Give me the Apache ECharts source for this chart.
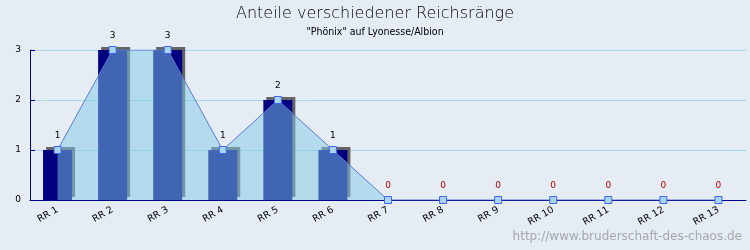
<!DOCTYPE html>
<html>
<head>
<meta charset="utf-8">
<script src="https://cdn.jsdelivr.net/npm/echarts@6/dist/echarts.min.js"></script>
<style>
html,body{margin:0;padding:0;background:#e6ecf4;}
#c{width:750px;height:250px;}
</style>
</head>
<body>
<div id="c"></div>
<script>
var categories = ['RR 1','RR 2','RR 3','RR 4','RR 5','RR 6','RR 7','RR 8','RR 9','RR 10','RR 11','RR 12','RR 13'];
var values = [1,3,3,1,2,1,0,0,0,0,0,0,0];
var yTicks = [0,1,2,3];
var titleText = 'Anteile verschiedener Reichsränge';
var subtitleText = '"Phönix" auf Lyonesse/Albion';
var watermark = 'http://www.bruderschaft-des-chaos.de';

var chart = echarts.init(document.getElementById('c'), null, {renderer:'canvas'});
var lineData = values.map(function(v){
  return {value:v, label:{color: v === 0 ? '#b00000' : '#000000'}};
});
chart.setOption({
  backgroundColor:'#e6ecf4',
  animation:false,
  title:{
    text:titleText,
    subtext:subtitleText,
    left:'center',
    top:1,
    itemGap:5,
    textStyle:{fontFamily:'DejaVu Sans',fontWeight:300,fontSize:16,color:'#000'},
    subtextStyle:{fontFamily:'DejaVu Sans Condensed, DejaVu Sans',fontSize:10.5,color:'#000'}
  },
  grid:{left:30,right:4,top:50,bottom:50,containLabel:false},
  xAxis:{
    type:'category',
    data:categories,
    boundaryGap:true,
    axisLine:{lineStyle:{color:'#000090',width:1}},
    axisTick:{inside:true,length:5,lineStyle:{color:'#000090'}},
    axisLabel:{rotate:30,margin:9,fontSize:9.5,fontFamily:'DejaVu Sans',color:'#000',interval:0},
    splitLine:{show:false}
  },
  yAxis:{
    type:'value',
    min:yTicks[0],
    max:yTicks[yTicks.length-1],
    interval:1,
    axisLine:{show:true,lineStyle:{color:'#000090',width:1}},
    axisTick:{show:true,inside:true,length:5,lineStyle:{color:'#000090'}},
    axisLabel:{fontSize:9,fontFamily:'DejaVu Sans',color:'#000',margin:9},
    splitLine:{show:true,lineStyle:{color:'#a4d8ea',width:1}}
  },
  graphic:[{
    type:'text',
    right:8,
    top:231,
    style:{text:watermark,fill:'#a4a8ac',font:'normal 12px "DejaVu Sans"'}
  }],
  series:[
    {
      type:'bar',
      data:values,
      barWidth:29,
      z:2,
      itemStyle:{color:'#000080',shadowColor:'#646464',shadowBlur:0,shadowOffsetX:3,shadowOffsetY:-3},
      silent:true
    },
    {
      type:'line',
      data:lineData,
      z:3,
      symbol:'rect',
      symbolSize:7,
      showAllSymbol:true,
      lineStyle:{color:'#5a7ad6',width:1},
      itemStyle:{color:'#a6d6ee',borderColor:'#4464ee',borderWidth:1},
      areaStyle:{color:'rgb(128,202,230)',opacity:0.5,origin:'start'},
      label:{show:true,position:'top',distance:6,fontSize:9,fontFamily:'DejaVu Sans'}
    }
  ]
});
</script>
</body>
</html>
